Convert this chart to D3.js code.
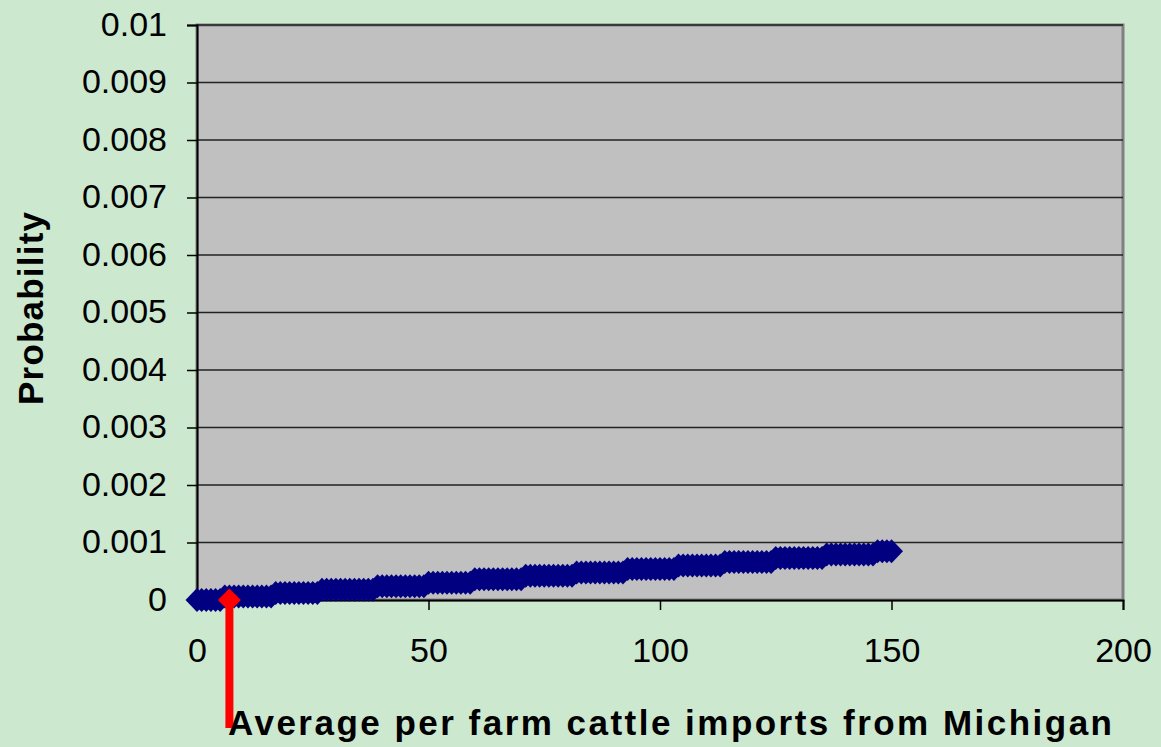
<!DOCTYPE html>
<html><head><meta charset="utf-8">
<script src="https://cdn.jsdelivr.net/npm/d3@7"></script>
<style>html,body{margin:0;padding:0;background:#cce8cf;}svg{display:block;}</style>
</head><body>
<svg id="chart" width="1161" height="747"></svg>
<script>
// ---- data ----
const xValues = d3.range(0, 151); // cattle imports 0..150 (one point per unit)
const probValues = [
  0,0,0,0,0,0,
  0.00006,0.00006,0.00006,0.00006,0.00006,0.00006,0.00006,0.00006,0.00006,0.00006,0.00006,
  0.00012,0.00012,0.00012,0.00012,0.00012,0.00012,0.00012,0.00012,0.00012,0.00012,
  0.00018,0.00018,0.00018,0.00018,0.00018,0.00018,0.00018,0.00018,0.00018,0.00018,0.00018,0.00018,
  0.00024,0.00024,0.00024,0.00024,0.00024,0.00024,0.00024,0.00024,0.00024,0.00024,0.00024,
  0.0003,0.0003,0.0003,0.0003,0.0003,0.0003,0.0003,0.0003,0.0003,0.0003,
  0.00036,0.00036,0.00036,0.00036,0.00036,0.00036,0.00036,0.00036,0.00036,0.00036,0.00036,
  0.00042,0.00042,0.00042,0.00042,0.00042,0.00042,0.00042,0.00042,0.00042,0.00042,0.00042,
  0.00048,0.00048,0.00048,0.00048,0.00048,0.00048,0.00048,0.00048,0.00048,0.00048,0.00048,
  0.00054,0.00054,0.00054,0.00054,0.00054,0.00054,0.00054,0.00054,0.00054,0.00054,0.00054,
  0.0006,0.0006,0.0006,0.0006,0.0006,0.0006,0.0006,0.0006,0.0006,0.0006,
  0.00066,0.00066,0.00066,0.00066,0.00066,0.00066,0.00066,0.00066,0.00066,0.00066,0.00066,
  0.00073,0.00073,0.00073,0.00073,0.00073,0.00073,0.00073,0.00073,0.00073,0.00073,0.00073,
  0.00079,0.00079,0.00079,0.00079,0.00079,0.00079,0.00079,0.00079,0.00079,0.00079,0.00079,
  0.00085,0.00085,0.00085,0.00085
];
const xTicks = [0, 50, 100, 150, 200];
const yTicks = [0, 0.001, 0.002, 0.003, 0.004, 0.005, 0.006, 0.007, 0.008, 0.009, 0.01];
const yTickLabels = ["0","0.001","0.002","0.003","0.004","0.005","0.006","0.007","0.008","0.009","0.01"];
const arrowX = [7];
const arrowY = [0];
const xTitle = "Average per farm cattle imports from Michigan";
const yTitle = "Probability";

// ---- layout ----
const svg = d3.select("#chart");
const L = 197, T = 25, R = 1123, B = 600;
const font = "'Liberation Sans', Arial, sans-serif";
const x = d3.scaleLinear().domain([0, 200]).range([L, R]);
const y = d3.scaleLinear().domain([0, 0.01]).range([B, T]);

svg.append("rect").attr("width", 1161).attr("height", 747).attr("fill", "#cce8cf");
svg.append("rect").attr("x", L).attr("y", T).attr("width", R - L).attr("height", B - T)
  .attr("fill", "#c0c0c0").attr("stroke", "#808080").attr("stroke-width", 3);

// gridlines
svg.append("g").selectAll("line").data(yTicks.slice(1)).join("line")
  .attr("x1", L).attr("x2", R).attr("y1", d => y(d)).attr("y2", d => y(d))
  .attr("stroke", "#222").attr("stroke-width", 1.5);

// y axis
const yAxis = d3.axisLeft(y).tickValues(yTicks).tickSize(10)
  .tickFormat((d, i) => yTickLabels[i]);
const gy = svg.append("g").attr("transform", `translate(${L},0)`).call(yAxis);
gy.select(".domain").attr("stroke", "#000").attr("stroke-width", 2);
gy.selectAll(".tick line").attr("stroke", "#000").attr("stroke-width", 1.5);
gy.selectAll(".tick text").attr("font-family", font).attr("font-size", 34)
  .attr("fill", "#000").attr("x", -30).attr("dy", "0.3em");

// x axis
const xAxis = d3.axisBottom(x).tickValues(xTicks).tickSize(10).tickFormat(d3.format("d"));
const gx = svg.append("g").attr("transform", `translate(0,${B})`).call(xAxis);
gx.select(".domain").attr("stroke", "#000").attr("stroke-width", 2);
gx.selectAll(".tick line").attr("stroke", "#000").attr("stroke-width", 1.5);
gx.selectAll(".tick text").attr("font-family", font).attr("font-size", 34)
  .attr("fill", "#000").attr("y", 0).attr("dy", 62);

// series markers
const diamond = "M0,-12L11.5,0L0,12L-11.5,0Z";
svg.append("g").selectAll("path").data(xValues.map((v, i) => [v, probValues[i]])).join("path")
  .attr("d", diamond)
  .attr("transform", d => `translate(${x(d[0])},${y(d[1])})`)
  .attr("fill", "#000080");

// red arrow annotation
const ax = x(arrowX[0]), ay = y(arrowY[0]);
svg.append("line").attr("x1", ax).attr("x2", ax).attr("y1", ay).attr("y2", 728)
  .attr("stroke", "#ff0000").attr("stroke-width", 8);
svg.append("path").attr("d", "M0,-11.5L11.5,0L0,11.5L-11.5,0Z")
  .attr("transform", `translate(${ax},${ay})`).attr("fill", "#ff0000");

// titles
svg.append("text").attr("x", 228).attr("y", 735).attr("font-family", font)
  .attr("font-size", 35).attr("font-weight", "bold").attr("fill", "#000")
  .attr("textLength", 884).attr("lengthAdjust", "spacing").text(xTitle);
svg.append("text").attr("transform", "translate(43,405) rotate(-90)")
  .attr("font-family", font).attr("font-size", 35).attr("font-weight", "bold").attr("fill", "#000")
  .attr("textLength", 193).attr("lengthAdjust", "spacing").text(yTitle);
</script>
</body></html>
